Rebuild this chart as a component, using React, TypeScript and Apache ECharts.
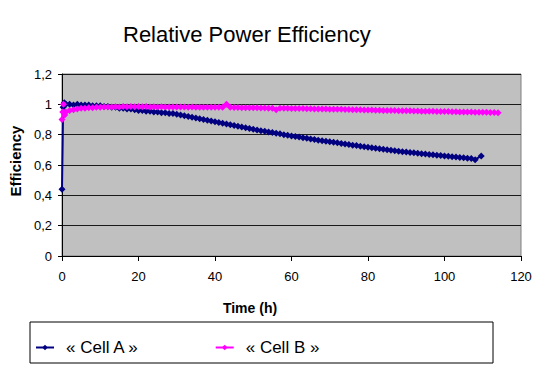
import React, { useEffect, useRef } from "react";
import * as echarts from "echarts";

const titleText = "Relative Power Efficiency";
const xAxisName = "Time (h)";
const yAxisName = "Efficiency";
const xTicks = [0, 20, 40, 60, 80, 100, 120];
const yTicks = [0, 0.2, 0.4, 0.6, 0.8, 1, 1.2];

const timeA = [0, 0.3, 0.6, 1, 2, 3, 4, 5, 6, 7, 8, 9, 10, 11, 12, 13, 14, 15, 16, 17, 18, 19, 20, 21, 22, 23, 24, 25, 26, 27, 28, 29, 30, 31, 32, 33, 34, 35, 36, 37, 38, 39, 40, 41, 42, 43, 44, 45, 46, 47, 48, 49, 50, 51, 52, 53, 54, 55, 56, 57, 58, 59, 60, 61, 62, 63, 64, 65, 66, 67, 68, 69, 70, 71, 72, 73, 74, 75, 76, 77, 78, 79, 80, 81, 82, 83, 84, 85, 86, 87, 88, 89, 90, 91, 92, 93, 94, 95, 96, 97, 98, 99, 100, 101, 102, 103, 104, 105, 106, 107, 108, 109.6];
const cellA = [0.44, 0.98, 1.01, 1.0, 1.0, 0.995, 1.0, 0.995, 0.995, 0.995, 0.99, 0.99, 0.99, 0.985, 0.985, 0.98, 0.98, 0.975, 0.975, 0.97, 0.97, 0.965, 0.96, 0.96, 0.955, 0.955, 0.95, 0.95, 0.945, 0.945, 0.94, 0.94, 0.935, 0.93, 0.925, 0.92, 0.915, 0.91, 0.905, 0.9, 0.895, 0.89, 0.885, 0.88, 0.875, 0.87, 0.865, 0.86, 0.855, 0.85, 0.845, 0.84, 0.835, 0.83, 0.826, 0.822, 0.818, 0.814, 0.81, 0.806, 0.8, 0.796, 0.792, 0.788, 0.784, 0.78, 0.776, 0.772, 0.768, 0.764, 0.76, 0.757, 0.754, 0.75, 0.746, 0.742, 0.738, 0.735, 0.731, 0.728, 0.724, 0.72, 0.717, 0.714, 0.71, 0.707, 0.704, 0.7, 0.697, 0.694, 0.691, 0.688, 0.686, 0.683, 0.68, 0.677, 0.675, 0.672, 0.67, 0.667, 0.665, 0.662, 0.66, 0.657, 0.655, 0.652, 0.65, 0.648, 0.645, 0.643, 0.635, 0.66];

const timeB = [0, 0.2, 0.4, 0.7, 1, 2, 3, 4, 5, 6, 7, 8, 9, 10, 11, 12, 13, 14, 15, 16, 17, 18, 19, 20, 21, 22, 23, 24, 25, 26, 27, 28, 29, 30, 31, 32, 33, 34, 35, 36, 37, 38, 39, 40, 41, 42, 43, 44, 45, 46, 47, 48, 49, 50, 51, 52, 53, 54, 55, 56, 57, 58, 59, 60, 61, 62, 63, 64, 65, 66, 67, 68, 69, 70, 71, 72, 73, 74, 75, 76, 77, 78, 79, 80, 81, 82, 83, 84, 85, 86, 87, 88, 89, 90, 91, 92, 93, 94, 95, 96, 97, 98, 99, 100, 101, 102, 103, 104, 105, 106, 107, 108, 109, 110, 111, 112, 113, 114];
const cellB = [0.9, 0.95, 1.0, 0.93, 0.95, 0.96, 0.965, 0.97, 0.975, 0.975, 0.978, 0.978, 0.98, 0.98, 0.982, 0.983, 0.982, 0.984, 0.983, 0.985, 0.984, 0.985, 0.984, 0.985, 0.984, 0.985, 0.983, 0.984, 0.983, 0.984, 0.982, 0.983, 0.982, 0.983, 0.982, 0.982, 0.981, 0.982, 0.981, 0.981, 0.98, 0.981, 0.98, 0.98, 0.98, 0.98, 1.0, 0.98, 0.979, 0.979, 0.978, 0.978, 0.978, 0.977, 0.977, 0.976, 0.976, 0.975, 0.975, 0.965, 0.975, 0.974, 0.974, 0.973, 0.973, 0.972, 0.972, 0.971, 0.971, 0.97, 0.97, 0.969, 0.969, 0.968, 0.968, 0.967, 0.967, 0.966, 0.966, 0.965, 0.965, 0.964, 0.963, 0.962, 0.962, 0.961, 0.961, 0.96, 0.96, 0.959, 0.959, 0.958, 0.958, 0.957, 0.957, 0.956, 0.956, 0.955, 0.955, 0.954, 0.954, 0.953, 0.953, 0.952, 0.952, 0.951, 0.951, 0.95, 0.95, 0.949, 0.949, 0.948, 0.948, 0.947, 0.947, 0.946, 0.946, 0.945];

const seriesNames = ["« Cell A »", "« Cell B »"];
const seriesColors = ["#000080", "#FF00FF"];

const fmt = (v: number) => String(parseFloat(v.toFixed(1))).replace(".", ",");

export default function App() {
  const ref = useRef<HTMLDivElement>(null);
  useEffect(() => {
    document.body.style.margin = "0";
    if (!ref.current) return;
    const chart = echarts.init(ref.current, null, { renderer: "svg" });
    const font = "Arial, 'Liberation Sans', sans-serif";
    chart.setOption({
      animation: false,
      textStyle: { fontFamily: font },
      title: {
        text: titleText,
        left: 123,
        top: 23,
        padding: 0,
        textStyle: { fontSize: 22, fontWeight: "normal", color: "#000", fontFamily: font },
      },
      grid: {
        left: 62,
        right: 19,
        top: 74,
        bottom: 109,
        show: true,
        backgroundColor: "#C0C0C0",
        borderColor: "#808080",
        borderWidth: 1,
      },
      legend: {
        left: 30,
        top: 334,
        itemWidth: 18,
        itemHeight: 7,
        itemGap: 75,
        textStyle: { fontSize: 17, color: "#000", fontFamily: font, padding: [0, 0, 0, 7] },
        data: seriesNames,
      },
      graphic: [
        {
          type: "rect",
          shape: { x: 30, y: 322, width: 463, height: 41 },
          style: { fill: "none", stroke: "#000", lineWidth: 1 },
          silent: true,
        },
        {
          type: "text",
          x: 250,
          y: 308,
          style: {
            text: xAxisName,
            font: `bold 14px ${font}`,
            fill: "#000",
            align: "center",
            verticalAlign: "middle",
          },
        },
      ],
      xAxis: {
        type: "value",
        min: 0,
        max: 120,
        interval: 20,
        axisLine: { show: true, lineStyle: { color: "#000", width: 1 } },
        axisTick: { show: true, length: 5, lineStyle: { color: "#000" } },
        axisLabel: {
          fontSize: 13,
          color: "#000",
          margin: 14,
          formatter: (v: number) => (xTicks.includes(v) ? String(v) : ""),
        },
        splitLine: { show: false },
      },
      yAxis: {
        type: "value",
        min: 0,
        max: 1.2,
        interval: 0.2,
        name: yAxisName,
        nameLocation: "middle",
        nameGap: 39,
        nameRotate: 90,
        nameTextStyle: { fontSize: 15, fontWeight: "bold", color: "#000", fontFamily: font, padding: [0, 0, 0, 8] },
        axisLine: { show: true, lineStyle: { color: "#000", width: 1 } },
        axisTick: { show: true, length: 4, lineStyle: { color: "#000" } },
        axisLabel: {
          fontSize: 13,
          color: "#000",
          margin: 10,
          formatter: (v: number) => (yTicks.some((t) => Math.abs(t - v) < 1e-6) ? fmt(v) : ""),
        },
        splitLine: { show: true, lineStyle: { color: "#1a1a1a", width: 1 } },
      },
      series: [
        {
          name: seriesNames[0],
          type: "line",
          data: timeA.map((t, i) => [t, cellA[i]]),
          color: seriesColors[0],
          symbol: "diamond",
          symbolSize: 7,
          lineStyle: { width: 2, color: seriesColors[0] },
          itemStyle: { color: seriesColors[0] },
        },
        {
          name: seriesNames[1],
          type: "line",
          data: timeB.map((t, i) => [t, cellB[i]]),
          color: seriesColors[1],
          symbol: "diamond",
          symbolSize: 7,
          lineStyle: { width: 2, color: seriesColors[1] },
          itemStyle: { color: seriesColors[1] },
        },
      ],
    });
    return () => chart.dispose();
  }, []);
  return <div ref={ref} style={{ width: 540, height: 365 }} />;
}
